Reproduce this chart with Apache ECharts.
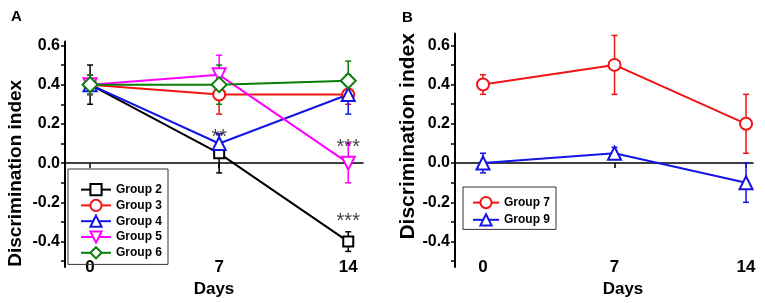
<!DOCTYPE html>
<html>
<head>
<meta charset="utf-8">
<script src="https://cdn.jsdelivr.net/npm/echarts@6/dist/echarts.min.js"></script>
<style>
  html, body { margin: 0; padding: 0; background: #fff; }
  #chart { width: 765px; height: 303px; }
</style>
</head>
<body>
<div id="chart"></div>
<script>
// 数据
const days = [0, 7, 14];
const yTickVals = [-0.5, -0.4, -0.3, -0.2, -0.1, 0, 0.1, 0.2, 0.3, 0.4, 0.5, 0.6];
const yLabelVals = [-0.4, -0.2, 0, 0.2, 0.4, 0.6];

// 面板 A
const g2Mean = [0.4, 0.05, -0.4];  const g2Err = [0.1, 0.1, 0.05];
const g3Mean = [0.4, 0.35, 0.35];  const g3Err = [0.05, 0.1, 0.05];
const g4Mean = [0.4, 0.1, 0.35];   const g4Err = [0.05, 0.05, 0.1];
const g5Mean = [0.4, 0.45, 0.0];   const g5Err = [0.05, 0.1, 0.1];
const g6Mean = [0.4, 0.4, 0.42];   const g6Err = [0.05, 0.1, 0.1];
const starsA = [[7, 0.13, '**'], [14, 0.08, '***'], [14, -0.3, '***']];

// 面板 B
const g7Mean = [0.4, 0.5, 0.2];    const g7Err = [0.05, 0.15, 0.15];
const g9Mean = [0.0, 0.05, -0.1];  const g9Err = [0.05, 0.03, 0.1];

const FONT = 'Liberation Sans, Arial, sans-serif';

const errItem = (params, api) => {
    const x = api.value(0);
    const top = api.coord([x, api.value(2)]);
    const bot = api.coord([x, api.value(1)]);
    const w = 3;
    const style = { stroke: api.visual('color'), lineWidth: 1.5 };
    return {
        type: 'group',
        children: [
            { type: 'line', shape: { x1: top[0], y1: top[1], x2: bot[0], y2: bot[1] }, style },
            { type: 'line', shape: { x1: top[0] - w, y1: top[1], x2: top[0] + w, y2: top[1] }, style },
            { type: 'line', shape: { x1: bot[0] - w, y1: bot[1], x2: bot[0] + w, y2: bot[1] }, style }
        ]
    };
};

const makeGroup = (name, mean, err, color, symbol, size, rotate, idx) => [
    {
        name: name, type: 'line', xAxisIndex: idx * 2, yAxisIndex: idx,
        data: days.map((d, i) => [d, mean[i]]),
        symbol: symbol, symbolSize: size, symbolRotate: rotate,
        color: color,
        lineStyle: { color: color, width: 2 },
        itemStyle: { color: color, borderColor: color, borderWidth: 2 },
        z: 3
    },
    {
        type: 'custom', xAxisIndex: idx * 2, yAxisIndex: idx,
        renderItem: errItem,
        itemStyle: { color: color },
        encode: { x: 0, y: [1, 2] },
        data: days.map((d, i) => [d, mean[i] - err[i], mean[i] + err[i]]),
        z: 2
    }
];

const xAxes = (grid, min, max, nameStyle) => [
    {
        gridIndex: grid, type: 'value', min: min, max: max,
        axisLine: { show: true, onZero: true, lineStyle: { color: '#000', width: 1.5 } },
        axisTick: { show: true, customValues: days, length: 5, lineStyle: { color: '#000', width: 1.5 } },
        axisLabel: { show: false },
        splitLine: { show: false }
    },
    {
        gridIndex: grid, type: 'value', min: min, max: max, position: 'bottom',
        axisLine: { show: false, onZero: false },
        axisTick: { show: false },
        axisLabel: {
            customValues: days, margin: -8,
            color: '#000', fontSize: 17, fontWeight: 'bold', fontFamily: FONT
        },
        splitLine: { show: false },
        name: 'Days', nameLocation: 'middle', nameGap: 6,
        nameTextStyle: nameStyle
    }
];

const yAxis = (grid, max, gap, nameStyle) => ({
    gridIndex: grid, type: 'value', min: -0.53, max: max,
    axisLine: { show: true, onZero: false, lineStyle: { color: '#000', width: 2 } },
    axisTick: { show: true, customValues: yTickVals, length: 4, lineStyle: { color: '#000', width: 1.5 } },
    axisLabel: {
        customValues: yLabelVals, formatter: v => v.toFixed(1), margin: 5,
        color: '#000', fontSize: 16, fontWeight: 'bold', fontFamily: FONT
    },
    splitLine: { show: false },
    name: 'Discrimination index', nameLocation: 'middle', nameGap: gap,
    nameTextStyle: nameStyle
});

const chart = echarts.init(document.getElementById('chart'));

const series = [].concat(
    makeGroup('Group 2', g2Mean, g2Err, '#000000', 'emptyRect', 10, 0, 0),
    makeGroup('Group 3', g3Mean, g3Err, '#f01414', 'emptyCircle', 12, 0, 0),
    makeGroup('Group 4', g4Mean, g4Err, '#1414e6', 'emptyTriangle', 13, 0, 0),
    makeGroup('Group 5', g5Mean, g5Err, '#ff00ff', 'emptyTriangle', 13, 180, 0),
    makeGroup('Group 6', g6Mean, g6Err, '#0a7d0a', 'emptyDiamond', 15, 0, 0),
    makeGroup('Group 7', g7Mean, g7Err, '#f01414', 'emptyCircle', 12, 0, 1),
    makeGroup('Group 9', g9Mean, g9Err, '#1414e6', 'emptyTriangle', 13, 0, 1),
    [{
        type: 'scatter', xAxisIndex: 0, yAxisIndex: 0,
        symbolSize: 0, silent: true,
        data: starsA,
        label: {
            show: true, position: 'inside', formatter: p => p.data[2],
            color: '#111', fontSize: 20, fontFamily: FONT
        },
        z: 5
    }]
);

const legendText = { color: '#000', fontSize: 12, fontWeight: 'bold', fontFamily: FONT };

chart.setOption({
    animation: false,
    backgroundColor: '#fff',
    title: [
        { text: 'A', left: 6, top: 4, textStyle: { fontSize: 15, fontWeight: 'bold', color: '#000', fontFamily: FONT } },
        { text: 'B', left: 397, top: 5, textStyle: { fontSize: 15, fontWeight: 'bold', color: '#000', fontFamily: FONT } }
    ],
    grid: [
        { left: 65, top: 41.5, width: 298, bottom: 27 },
        { left: 455, top: 33.5, width: 298, bottom: 27 }
    ],
    legend: [
        {
            data: ['Group 2', 'Group 3', 'Group 4', 'Group 5', 'Group 6'],
            orient: 'vertical', left: 68, top: 169,
            padding: [14, 6, 5, 12], itemGap: 2.6, itemWidth: 30, itemHeight: 14,
            lineStyle: { width: 2 },
            borderColor: '#333', borderWidth: 1, textStyle: legendText
        },
        {
            data: ['Group 7', 'Group 9'],
            orient: 'vertical', left: 463, top: 187,
            padding: [9, 6, 3, 9], itemGap: 4, itemWidth: 26, itemHeight: 14,
            lineStyle: { width: 2 },
            borderColor: '#333', borderWidth: 1, textStyle: legendText
        }
    ],
    xAxis: [].concat(
        xAxes(0, -1.36, 14.8, { color: '#000', fontSize: 17, fontWeight: 'bold', fontFamily: FONT }),
        xAxes(1, -1.49, 14.37, { color: '#000', fontSize: 17, fontWeight: 'bold', fontFamily: FONT, padding: [0, 0, 0, 38] })
    ),
    yAxis: [
        yAxis(0, 0.62, 40, { color: '#000', fontSize: 19, fontWeight: 'bold', fontFamily: FONT, padding: [0, 38, 0, 0] }),
        yAxis(1, 0.66, 34, { color: '#000', fontSize: 21, fontWeight: 'bold', fontFamily: FONT, padding: [0, 0, 0, 28] })
    ],
    series: series
});

window.addEventListener('resize', () => chart.resize());
</script>
</body>
</html>
